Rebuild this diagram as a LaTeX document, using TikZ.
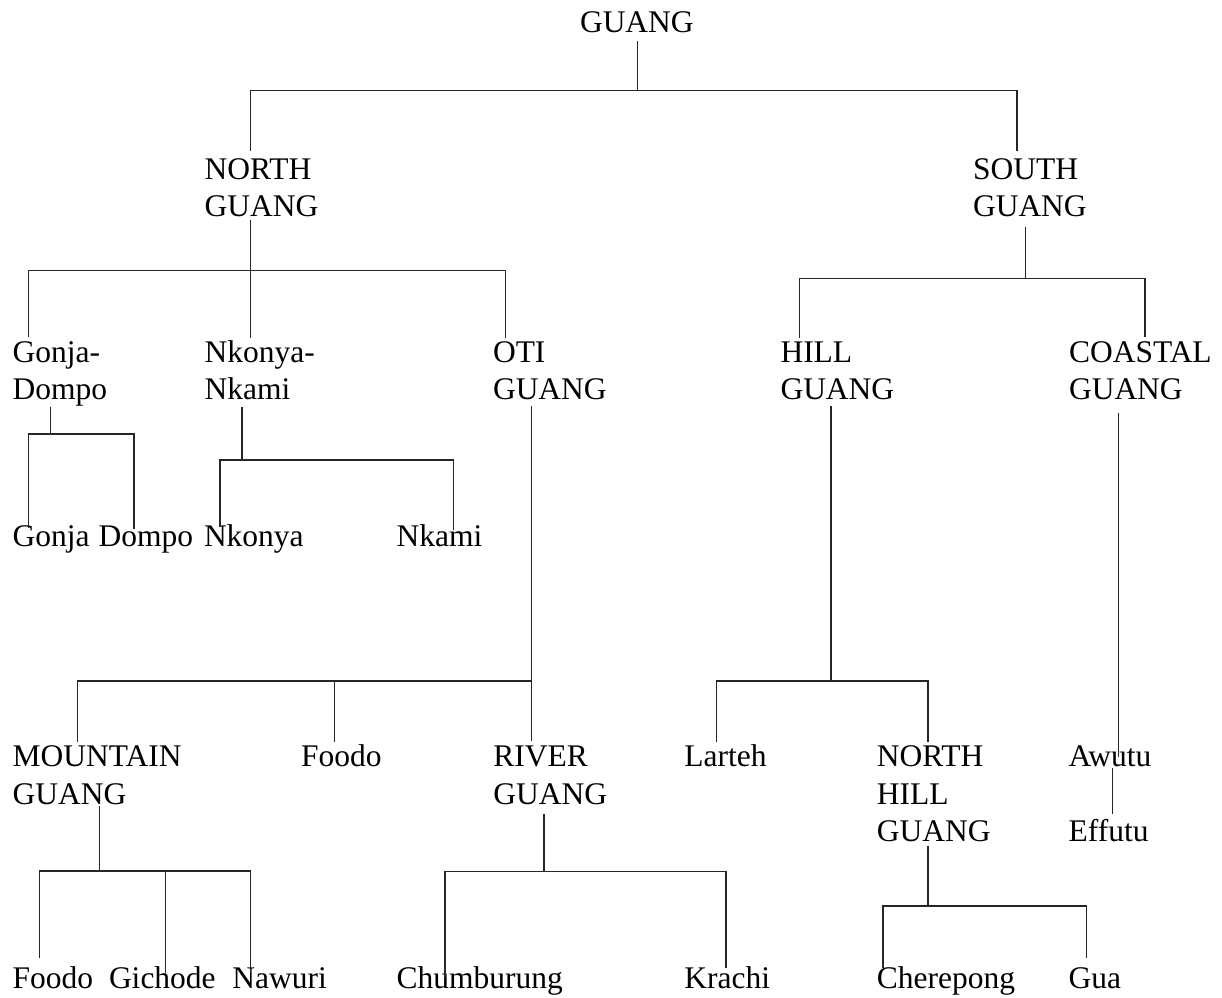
\documentclass[tikz,border=0pt]{standalone}
\usepackage{fontspec}
\setmainfont{Liberation Serif}
\newcommand\mlines[1]{\begin{tabular}[t]{@{}l@{}}#1\end{tabular}}
\tikzset{
  lbl/.style={anchor=base west, inner sep=0pt, outer sep=0pt, font=\fontsize{31.5}{37.3}\selectfont},
  ln/.style={line width=1.2pt, black!85, line cap=butt}
}
\begin{document}
\begin{tikzpicture}[x=1pt,y=-1pt]
\useasboundingbox (0,0) rectangle (1222,997);
% ---------- text nodes ----------
\node[lbl] (guang) at (580,32) {GUANG};
\node[lbl] (north) at (204.7,179) {\mlines{NORTH\\GUANG}};
\node[lbl] (south) at (973,179) {\mlines{SOUTH\\GUANG}};
\node[lbl] (gonjadompo) at (12.7,362.5) {\mlines{Gonja-\\Dompo}};
\node[lbl] (nkonyankami) at (204.7,362.5) {\mlines{Nkonya-\\Nkami}};
\node[lbl] (oti) at (493,362.5) {\mlines{OTI\\GUANG}};
\node[lbl] (hill) at (780.5,362.5) {\mlines{HILL\\GUANG}};
\node[lbl] (coastal) at (1069,362.5) {\mlines{COASTAL\\GUANG}};
\node[lbl] (gonja) at (12.7,546) {Gonja};
\node[lbl] (dompo) at (98.7,546) {Dompo};
\node[lbl] (nkonya) at (204,546) {Nkonya};
\node[lbl] (nkami) at (396.7,546) {Nkami};
\node[lbl] (mountain) at (12.7,766.7) {\mlines{MOUNTAIN\\GUANG}};
\node[lbl] (foodoa) at (301,766.7) {Foodo};
\node[lbl] (river) at (493.3,766.7) {\mlines{RIVER\\GUANG}};
\node[lbl] (larteh) at (684.4,766.7) {Larteh};
\node[lbl] (northhill) at (876.8,766.7) {\mlines{NORTH\\HILL\\GUANG}};
\node[lbl] (awutu) at (1068.6,766.7) {Awutu};
\node[lbl] (effutu) at (1068.6,841.7) {Effutu};
\node[lbl] (foodob) at (12.7,988.3) {Foodo};
\node[lbl] (gichode) at (109,988.3) {Gichode};
\node[lbl] (nawuri) at (232.3,988.3) {Nawuri};
\node[lbl] (chumburung) at (396.7,988.3) {Chumburung};
\node[lbl] (krachi) at (684.4,988.3) {Krachi};
\node[lbl] (cherepong) at (876.8,988.3) {Cherepong};
\node[lbl] (gua) at (1068.6,988.3) {Gua};
% ---------- connectors ----------
% GUANG
\draw[ln] (637.5,41) -- (637.5,90.5);
\draw[ln] (250.5,151) -- (250.5,90.5) -- (1017,90.5) -- (1017,151);
% NORTH GUANG
\draw[ln] (250.5,220) -- (250.5,337.7);
\draw[ln] (28.5,337) -- (28.5,270.7) -- (505.5,270.7) -- (505.5,337.7);
% SOUTH GUANG
\draw[ln] (1025.5,227) -- (1025.5,278.3);
\draw[ln] (799.4,337.5) -- (799.4,278.3) -- (1145,278.3) -- (1145,337.3);
% Gonja-Dompo
\draw[ln] (50.7,406.7) -- (50.7,434);
\draw[ln] (28.3,528) -- (28.3,434) -- (134,434) -- (134,529);
% Nkonya-Nkami
\draw[ln] (242,406.7) -- (242,460);
\draw[ln] (220,527) -- (220,460) -- (453.3,460) -- (453.3,530);
% OTI GUANG
\draw[ln] (531.7,406) -- (531.7,740.7);
\draw[ln] (77.7,741.7) -- (77.7,681) -- (531.7,681);
\draw[ln] (334.3,681) -- (334.3,741.7);
% HILL GUANG
\draw[ln] (831,406) -- (831,681);
\draw[ln] (716.6,741.7) -- (716.6,681) -- (928,681) -- (928,741.7);
% COASTAL GUANG
\draw[ln] (1118.5,413) -- (1118.5,757);
% Awutu - Effutu
\draw[ln] (1112.7,768.3) -- (1112.7,814);
% MOUNTAIN GUANG
\draw[ln] (99.5,806) -- (99.5,871);
\draw[ln] (39.3,958.3) -- (39.3,871) -- (250.3,871) -- (250.3,973.3);
\draw[ln] (165.7,871) -- (165.7,973.3);
% RIVER GUANG
\draw[ln] (544,814) -- (544,871.7);
\draw[ln] (445,976.7) -- (445,871.7) -- (726,871.7) -- (726,968.3);
% NORTH HILL GUANG
\draw[ln] (928,846) -- (928,906);
\draw[ln] (883,968.3) -- (883,906) -- (1086.5,906) -- (1086.5,958.3);
\end{tikzpicture}
\end{document}
